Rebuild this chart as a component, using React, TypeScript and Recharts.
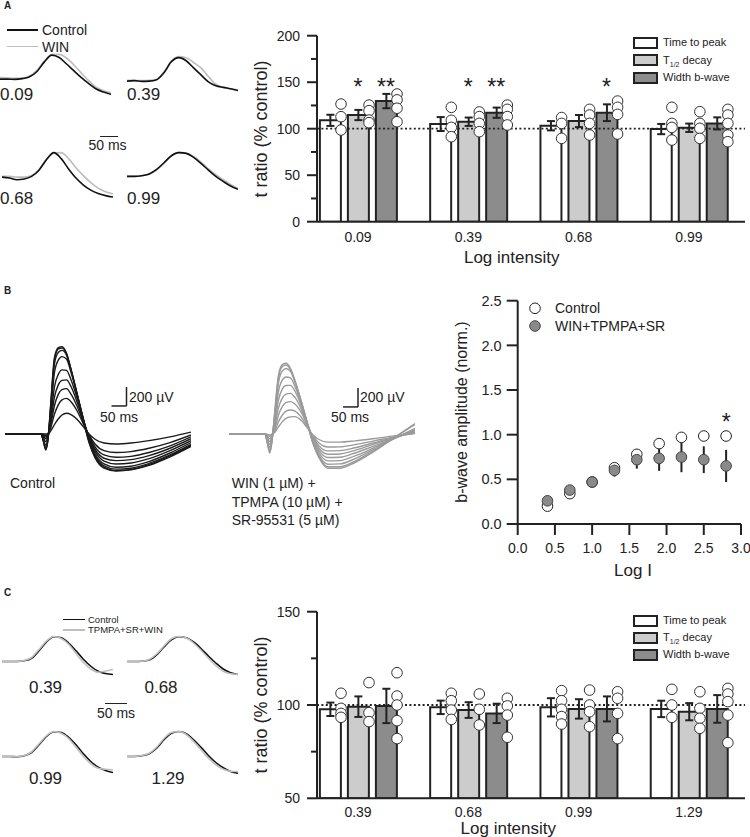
import React from 'react';
import {
  ComposedChart,
  LineChart,
  Line,
  Bar,
  Scatter,
  XAxis,
  YAxis,
  ErrorBar,
  ReferenceLine,
} from 'recharts';

const FONT = '"Liberation Sans", Arial, Helvetica, sans-serif';
const INK = '#222222';
const LIGHT = '#cccccc';
const DARK = '#8c8c8c';

// ---------------- Panel A : example traces (normalised amplitude) ----------------
const traceTimeA = [0, 20, 40, 60, 80, 100, 120, 140, 160, 180, 200, 220, 240, 260, 280, 300];
const a009Control = [-0.03, -0.03, -0.04, -0.01, 0.07, 0.29, 0.69, 0.97, 0.87, 0.6, 0.31, 0.03, -0.22, -0.44, -0.57, -0.66];
const a009Win = [0.04, 0.03, 0, 0.01, 0.1, 0.34, 0.72, 0.99, 1.0, 0.85, 0.56, 0.22, -0.1, -0.37, -0.51, -0.59];
const a039Control = [-0.03, -0.01, -0.04, -0.03, 0.03, 0.32, 0.78, 0.95, 0.82, 0.52, 0.23, -0.06, -0.22, -0.29, -0.35, -0.42];
const a039Win = [0, 0, -0.01, 0, 0.04, 0.36, 0.81, 0.99, 0.94, 0.75, 0.52, 0.16, -0.16, -0.29, -0.35, -0.4];
const a068Control = [-0.03, -0.07, -0.14, -0.11, 0, 0.26, 0.69, 0.99, 0.74, 0.31, -0.07, -0.36, -0.57, -0.71, -0.8, -0.86];
const a068Win = [0, 0, -0.03, -0.03, 0.04, 0.29, 0.71, 0.97, 0.99, 0.74, 0.36, 0.03, -0.26, -0.49, -0.64, -0.73];
const a099Control = [0, 0, 0.03, 0.1, 0.29, 0.57, 0.86, 0.99, 0.96, 0.79, 0.54, 0.26, 0, -0.21, -0.4, -0.54];
const a099Win = [0, 0, 0.03, 0.09, 0.26, 0.54, 0.86, 1.0, 0.97, 0.83, 0.6, 0.31, 0.07, -0.14, -0.33, -0.5];

// ---------------- Panel A : bar chart ----------------
const catsA = ['0.09', '0.39', '0.68', '0.99'];
const timeToPeakA = [109, 105, 103.2, 99.6];
const timeToPeakErrA = [6, 7.5, 5, 5.5];
const halfDecayA = [114.7, 107.5, 108.2, 101];
const halfDecayErrA = [5.5, 4.5, 6.5, 4.5];
const widthA = [129.7, 117.2, 117.2, 105.7];
const widthErrA = [7.7, 5.5, 9, 6.5];
const timeToPeakPtsA = [[126.5, 112.9, 98.6], [123, 109, 101.4, 91.4], [112, 105.7, 89.6], [123, 105.7, 101.4, 87.8]];
const halfDecayPtsA = [[125.4, 119.4, 109.3, 106.5], [118, 113, 105.7, 96.8], [120.8, 114.7, 105.7, 93.2], [118.3, 105.7, 100.4, 89.6]];
const widthPtsA = [[137.3, 131, 122, 107.5], [125.4, 120.8, 113, 104], [129.7, 123, 115.4, 94.3], [120.8, 114.7, 105.7, 93.2, 86]];
const sigA = [['', '*', '**'], ['', '*', '**'], ['', '', '*'], ['', '', '']];
const ticksA = [0, 25, 50, 75, 100, 125, 150, 175, 200];
const majorTicksA = [0, 50, 100, 150, 200];

// ---------------- Panel B : ERG families (µV) ----------------
const traceTimeB = [0, 120, 128, 136, 144, 152, 165, 178, 190, 205, 220, 240, 260, 280, 300, 330, 370, 420, 480, 550, 620];
const ctl1 = [0, 0, -80, -170, -40, 300, 810, 910, 920, 850, 680, 420, 155, -90, -250, -360, -390, -378, -330, -240, -130];
const ctl2 = [0, 0, -75, -160, -35, 280, 780, 895, 905, 845, 680, 425, 160, -80, -240, -350, -385, -372, -322, -230, -120];
const ctl3 = [0, 0, -70, -150, -30, 250, 740, 860, 880, 830, 675, 430, 170, -70, -225, -335, -370, -360, -310, -220, -110];
const ctl4 = [0, 0, -55, -120, -20, 210, 650, 780, 815, 790, 650, 420, 175, -55, -205, -315, -350, -340, -290, -200, -90];
const ctl5 = [0, 0, -35, -80, -10, 160, 500, 630, 675, 670, 570, 380, 165, -40, -180, -285, -315, -305, -260, -175, -70];
const ctl6 = [0, 0, -20, -50, 0, 120, 390, 520, 565, 570, 500, 340, 150, -30, -160, -255, -280, -270, -228, -150, -50];
const ctl7 = [0, 0, -12, -30, 0, 90, 300, 420, 468, 478, 420, 295, 135, -20, -135, -220, -245, -235, -195, -125, -30];
const ctl8 = [0, 0, -5, -15, 0, 60, 210, 310, 360, 375, 340, 245, 115, -10, -105, -175, -195, -185, -150, -90, -10];
const ctl9 = [0, 0, 0, 0, 0, 30, 100, 160, 200, 218, 205, 155, 80, 0, -55, -95, -105, -95, -70, -30, 20];
const drug1 = [0, 0, -100, -200, -60, 220, 620, 730, 744, 690, 560, 350, 120, -100, -250, -360, -360, -300, -190, -40, 110];
const drug2 = [0, 0, -95, -190, -55, 200, 590, 710, 727, 680, 555, 350, 125, -95, -240, -345, -345, -285, -180, -40, 100];
const drug3 = [0, 0, -85, -170, -45, 175, 540, 665, 690, 660, 545, 350, 130, -85, -225, -318, -315, -260, -165, -50, 60];
const drug4 = [0, 0, -70, -140, -35, 140, 450, 570, 600, 590, 500, 330, 130, -70, -200, -283, -280, -230, -150, -50, 45];
const drug5 = [0, 0, -55, -110, -25, 105, 360, 475, 510, 512, 450, 305, 125, -55, -175, -248, -245, -200, -130, -45, 35];
const drug6 = [0, 0, -40, -80, -15, 75, 275, 380, 420, 428, 385, 270, 115, -40, -150, -213, -210, -172, -110, -40, 25];
const drug7 = [0, 0, -25, -50, -8, 50, 200, 290, 330, 341, 315, 230, 100, -30, -125, -178, -175, -145, -95, -35, 20];
const drug8 = [0, 0, -12, -25, 0, 30, 130, 200, 240, 253, 240, 180, 80, -20, -95, -137, -135, -112, -75, -30, 10];
const drug9 = [0, 0, -5, -10, 0, 15, 75, 130, 165, 180, 183, 145, 70, -10, -58, -86, -85, -72, -50, -20, 5];

// ---------------- Panel B : intensity-response ----------------
const logI = [0.4, 0.7, 1.0, 1.3, 1.6, 1.9, 2.2, 2.5, 2.8];
const ctrlAmp = [0.2, 0.34, 0.47, 0.63, 0.78, 0.9, 0.97, 0.985, 0.985];
const ctrlSem = [0.02, 0.03, 0.03, 0.04, 0.055, 0.04, 0.055, 0.05, 0.04];
const winAmp = [0.26, 0.38, 0.47, 0.6, 0.72, 0.735, 0.75, 0.72, 0.65];
const winSem = [0.03, 0.03, 0.04, 0.07, 0.1, 0.14, 0.17, 0.15, 0.18];
const sigB = [{ x: 2.8, label: '*' }];

// ---------------- Panel C : example traces ----------------
const traceTimeC = [0, 17, 34, 51, 68, 85, 102, 119, 136, 153, 170, 187, 204, 221, 238, 255];
const c039Control = [0, 0, 0, 0.03, 0.13, 0.43, 0.78, 0.99, 0.95, 0.74, 0.43, 0.09, -0.19, -0.39, -0.48, -0.52];
const c039Drug = [0, 0, 0, 0.04, 0.16, 0.48, 0.82, 1.0, 0.92, 0.69, 0.32, -0.04, -0.3, -0.43, -0.38, -0.32];
const c068Control = [0, 0, 0.01, 0.06, 0.26, 0.58, 0.87, 0.99, 0.95, 0.78, 0.52, 0.22, -0.06, -0.3, -0.45, -0.52];
const c068Drug = [0, 0, 0.01, 0.08, 0.3, 0.62, 0.91, 1.0, 0.94, 0.74, 0.45, 0.13, -0.17, -0.39, -0.49, -0.51];
const c099Control = [0, 0, -0.01, 0.03, 0.16, 0.47, 0.8, 0.99, 0.96, 0.77, 0.47, 0.11, -0.2, -0.43, -0.56, -0.64];
const c099Drug = [0, 0, 0, 0.04, 0.19, 0.51, 0.83, 1.0, 0.93, 0.72, 0.37, 0, -0.29, -0.47, -0.51, -0.53];
const c129Control = [0, 0, 0.03, 0.11, 0.33, 0.67, 0.93, 1.0, 0.91, 0.67, 0.37, 0.04, -0.24, -0.45, -0.6, -0.67];
const c129Drug = [0, 0, 0.04, 0.13, 0.37, 0.72, 0.96, 1.0, 0.88, 0.6, 0.27, -0.07, -0.33, -0.51, -0.59, -0.6];

// ---------------- Panel C : bar chart ----------------
const catsC = ['0.39', '0.68', '0.99', '1.29'];
const timeToPeakC = [97.7, 98.75, 98.75, 97.9];
const timeToPeakErrC = [3.6, 3.6, 4.9, 4.4];
const halfDecayC = [99.1, 97.3, 97.9, 96.4];
const halfDecayErrC = [5.5, 4.2, 5.2, 4.6];
const widthC = [99.5, 95.5, 97.9, 97.9];
const widthErrC = [9.2, 5.2, 6.7, 7.4];
const timeToPeakPtsC = [[106.3, 98.2, 95.5, 93.4], [106.3, 102.3, 97.3, 92.3], [107.7, 102.3, 97.7, 93.8, 89.8], [108.4, 100, 93.4]];
const halfDecayPtsC = [[112, 95.9, 91.1], [105.9, 97.7, 89.3], [108, 100, 96.4, 88.4], [107.1, 98.2, 92.9, 87.5]];
const widthPtsC = [[117.3, 104.8, 100, 91.6, 82], [103.6, 99.5, 94.6, 82.7], [107.1, 103.6, 95.5, 82], [108.9, 105.9, 101.8, 94.6, 79.8]];
const sigC = [['', '', ''], ['', '', ''], ['', '', ''], ['', '', '']];
const ticksC = [50, 75, 100, 125, 150];
const majorTicksC = [50, 100, 150];

// ---------------- helpers ----------------
const X_DOMAIN: [number, number] = [-0.372, 3.509];
const PX_PER_UNIT = 428 / (X_DOMAIN[1] - X_DOMAIN[0]);
const DOT_OFFSET_PX = [-17, 11, 39];
const BAR_CENTER_PX = [-28, 0, 28];

function Txt(props: any) {
  const { x, y, size = 14, anchor = 'start', rotate = false, bold = false, color = INK, children } = props;
  const tx = anchor === 'middle' ? '-50%' : anchor === 'end' ? '-100%' : '0';
  return (
    <div
      style={{
        position: 'absolute',
        left: x,
        top: y,
        transform: `translate(${tx}, -50%)${rotate ? ' rotate(-90deg)' : ''}`,
        fontSize: size,
        fontFamily: FONT,
        fontWeight: bold ? 700 : 400,
        whiteSpace: 'nowrap',
        lineHeight: 1,
        color,
      }}
    >
      {children}
    </div>
  );
}

function HLine(props: any) {
  const { x1, x2, y, color = INK, w = 1.5 } = props;
  return <div style={{ position: 'absolute', left: x1, top: y - w / 2, width: x2 - x1, height: w, background: color }} />;
}

function MiniTrace(props: any) {
  const { left, top, height, tMax, time, first, second, firstColor, secondColor } = props;
  const rows = time.map((t: number, i: number) => ({ t, a: first[i], b: second[i] }));
  return (
    <div style={{ position: 'absolute', left, top }}>
      <LineChart width={111} height={height} data={rows} margin={{ top: 0, right: 0, bottom: 0, left: 0 }}>
        <XAxis dataKey="t" type="number" domain={[0, tMax]} hide />
        <YAxis domain={[-0.9, 1.1]} hide allowDataOverflow />
        <Line dataKey="a" type="monotone" stroke={firstColor} strokeWidth={1.6} dot={false} isAnimationActive={false} />
        <Line dataKey="b" type="monotone" stroke={secondColor} strokeWidth={1.6} dot={false} isAnimationActive={false} />
      </LineChart>
    </div>
  );
}

function TraceFamily(props: any) {
  const { left, traces, color, barX, barY } = props;
  const rows = traceTimeB.map((t, i) => {
    const r: any = { t };
    traces.forEach((tr: number[], k: number) => {
      r['s' + k] = tr[i];
    });
    return r;
  });
  return (
    <div style={{ position: 'absolute', left, top: 320 }}>
      <LineChart width={186} height={171} data={rows} margin={{ top: 0, right: 0, bottom: 0, left: 0 }}>
        <XAxis dataKey="t" type="number" domain={[0, 620]} hide />
        <YAxis domain={[-600, 1200]} hide allowDataOverflow />
        {traces.map((_: any, k: number) => (
          <Line key={k} dataKey={'s' + k} type="monotone" stroke={color} strokeWidth={1.4} dot={false} isAnimationActive={false} />
        ))}
        <ReferenceLine segment={[{ x: barX, y: barY }, { x: barX, y: barY + 200 }]} stroke={INK} strokeWidth={1.5} />
        <ReferenceLine segment={[{ x: barX - 50, y: barY }, { x: barX, y: barY }]} stroke={INK} strokeWidth={1.5} />
      </LineChart>
    </div>
  );
}

function YTick(props: any) {
  const { x, y, payload, majors } = props;
  const isMajor = majors.includes(payload.value);
  const axisX = x + 17;
  return (
    <g>
      <line x1={axisX - (isMajor ? 10 : 6)} x2={axisX} y1={y} y2={y} stroke={INK} strokeWidth={2} />
      {isMajor && (
        <text x={x} y={y} dy="0.35em" textAnchor="end" fontSize={14} fontFamily={FONT} fill={INK}>
          {payload.value}
        </text>
      )}
    </g>
  );
}

const dotShape = (p: any) => <circle cx={p.cx} cy={p.cy} r={5.3} fill="#ffffff" stroke="#333333" strokeWidth={1} />;
const starShape = (p: any) => (
  <text x={p.cx} y={p.cy + 13} textAnchor="middle" fontSize={23} fontFamily={FONT} fill={INK}>
    {p.payload && p.payload.label}
  </text>
);

function BarPanel(props: any) {
  const { top, height, bottomMargin, cats, means, errs, pts, sig, yDomain, ticks, majors, starY, tickMargin } = props;
  const rows = cats.map((c: string, i: number) => ({
    x: i,
    tp: means[0][i],
    tpE: errs[0][i],
    th: means[1][i],
    thE: errs[1][i],
    wb: means[2][i],
    wbE: errs[2][i],
  }));
  const dots: any[] = [];
  pts.forEach((series: number[][], s: number) =>
    series.forEach((vals: number[], i: number) =>
      vals.forEach((v: number) => dots.push({ x: i + DOT_OFFSET_PX[s] / PX_PER_UNIT, y: v }))
    )
  );
  const stars: any[] = [];
  sig.forEach((g: string[], i: number) =>
    g.forEach((lab: string, s: number) => {
      if (lab) stars.push({ x: i + BAR_CENTER_PX[s] / PX_PER_UNIT, y: starY, label: lab });
    })
  );
  return (
    <div style={{ position: 'absolute', left: 250, top }}>
      <ComposedChart
        width={500}
        height={height}
        data={rows}
        barGap={7}
        margin={{ top: 15.7, right: 5, left: 7, bottom: bottomMargin }}
      >
        <XAxis
          dataKey="x"
          type="number"
          domain={X_DOMAIN}
          allowDataOverflow
          ticks={[0, 1, 2, 3]}
          interval={0}
          tickFormatter={(v: number) => cats[v]}
          tickLine={false}
          tickSize={5}
          tickMargin={tickMargin}
          axisLine={{ stroke: INK, strokeWidth: 2 }}
          tick={{ fill: INK, fontSize: 14, fontFamily: FONT }}
          height={30}
        />
        <XAxis xAxisId="pts" dataKey="x" type="number" domain={X_DOMAIN} allowDataOverflow hide height={0} />
        <YAxis
          domain={yDomain}
          allowDataOverflow
          ticks={ticks}
          interval={0}
          width={60}
          axisLine={{ stroke: INK, strokeWidth: 2 }}
          tickLine={false}
          tickSize={10}
          tickMargin={7}
          tick={(p: any) => <YTick {...p} majors={majors} />}
        />
        <YAxis yAxisId="pts" dataKey="y" domain={yDomain} allowDataOverflow hide width={0} />
        <Bar dataKey="tp" fill="#ffffff" stroke={INK} strokeWidth={2} barSize={21} isAnimationActive={false}>
          <ErrorBar dataKey="tpE" width={4} stroke={INK} strokeWidth={2} />
        </Bar>
        <Bar dataKey="th" fill={LIGHT} stroke={INK} strokeWidth={2} barSize={21} isAnimationActive={false}>
          <ErrorBar dataKey="thE" width={4} stroke={INK} strokeWidth={2} />
        </Bar>
        <Bar dataKey="wb" fill={DARK} stroke={INK} strokeWidth={2} barSize={21} isAnimationActive={false}>
          <ErrorBar dataKey="wbE" width={4} stroke={INK} strokeWidth={2} />
        </Bar>
        <ReferenceLine y={100} stroke={INK} strokeWidth={1.8} strokeDasharray="2 2.4" />
        <Scatter xAxisId="pts" yAxisId="pts" data={dots} shape={dotShape} isAnimationActive={false} />
        <Scatter xAxisId="pts" yAxisId="pts" data={stars} shape={starShape} isAnimationActive={false} />
      </ComposedChart>
    </div>
  );
}

function BarLegend(props: any) {
  const { left, top, step } = props;
  const items = [
    { fill: '#ffffff', label: <span>Time to peak</span> },
    {
      fill: LIGHT,
      label: (
        <span>
          T<span style={{ fontSize: 7, position: 'relative', top: 3 }}>1/2</span> decay
        </span>
      ),
    },
    { fill: DARK, label: <span>Width b-wave</span> },
  ];
  return (
    <>
      {items.map((it, i) => (
        <div
          key={i}
          style={{ position: 'absolute', left, top: top + i * step, height: 12, display: 'flex', alignItems: 'center' }}
        >
          <div style={{ width: 21, height: 8, border: `2px solid ${INK}`, background: it.fill }} />
          <div style={{ marginLeft: 5, fontSize: 11, fontFamily: FONT, color: INK, lineHeight: 1, whiteSpace: 'nowrap' }}>
            {it.label}
          </div>
        </div>
      ))}
    </>
  );
}

function DoseResponse() {
  const ctrlRows = logI.map((x, i) => ({ x, y: ctrlAmp[i], e: ctrlSem[i] }));
  const winRows = logI.map((x, i) => ({ x, y: winAmp[i], e: winSem[i] }));
  const starRows = sigB.map((s) => ({ x: s.x, y: 1.2, label: s.label }));
  const openShape = (p: any) => <circle cx={p.cx} cy={p.cy} r={5.3} fill="#ffffff" stroke="#222222" strokeWidth={1} />;
  const grayShape = (p: any) => <circle cx={p.cx} cy={p.cy} r={5.3} fill="#8a8a8a" stroke="#444444" strokeWidth={1} />;
  const noShape = () => <g />;
  return (
    <div style={{ position: 'absolute', left: 440, top: 290 }}>
      <ComposedChart width={310} height={300} margin={{ top: 10.7, right: 9, left: 17.7, bottom: 26 }}>
        <XAxis
          dataKey="x"
          type="number"
          domain={[0, 3]}
          ticks={[0, 0.5, 1, 1.5, 2, 2.5, 3]}
          interval={0}
          tickFormatter={(v: number) => v.toFixed(1)}
          axisLine={{ stroke: INK, strokeWidth: 2 }}
          tickLine={{ stroke: INK, strokeWidth: 2 }}
          tickSize={11}
          tickMargin={8.3}
          tick={{ fill: INK, fontSize: 14, fontFamily: FONT }}
          height={40}
        />
        <YAxis
          dataKey="y"
          type="number"
          domain={[0, 2.5]}
          ticks={[0, 0.5, 1, 1.5, 2, 2.5]}
          interval={0}
          tickFormatter={(v: number) => v.toFixed(1)}
          axisLine={{ stroke: INK, strokeWidth: 2 }}
          tickLine={{ stroke: INK, strokeWidth: 2 }}
          tickSize={11}
          tickMargin={5}
          tick={{ fill: INK, fontSize: 14.5, fontFamily: FONT }}
          width={60}
        />
        <Scatter data={ctrlRows} shape={openShape} isAnimationActive={false} />
        <Scatter data={winRows} shape={grayShape} isAnimationActive={false}>
          <ErrorBar dataKey="e" direction="y" width={0} stroke={INK} strokeWidth={2} />
        </Scatter>
        <Scatter data={ctrlRows} shape={noShape} isAnimationActive={false}>
          <ErrorBar dataKey="e" direction="y" width={0} stroke={INK} strokeWidth={1.5} />
        </Scatter>
        <Scatter data={starRows} shape={starShape} isAnimationActive={false} />
      </ComposedChart>
    </div>
  );
}

export default function App() {
  return (
    <div
      style={{
        position: 'absolute',
        left: 0,
        top: 0,
        width: 750,
        height: 837,
        background: '#ffffff',
        overflow: 'hidden',
        fontFamily: FONT,
        color: INK,
      }}
    >
      {/* ---------- Panel A ---------- */}
      <Txt x={4} y={6} size={10} bold>A</Txt>
      <HLine x1={7} x2={38} y={30} color="#111111" w={1.6} />
      <HLine x1={7} x2={38} y={46.7} color="#bdbdbd" w={1.6} />
      <Txt x={42} y={30} size={14}>Control</Txt>
      <Txt x={42} y={46.7} size={14}>WIN</Txt>

      <MiniTrace left={0} top={51.9} height={48} tMax={300} time={traceTimeA} first={a009Win} second={a009Control} firstColor="#bdbdbd" secondColor="#111111" />
      <MiniTrace left={127} top={53.6} height={48} tMax={300} time={traceTimeA} first={a039Win} second={a039Control} firstColor="#bdbdbd" secondColor="#111111" />
      <MiniTrace left={2} top={150.3} height={48} tMax={300} time={traceTimeA} first={a068Win} second={a068Control} firstColor="#bdbdbd" secondColor="#111111" />
      <MiniTrace left={127} top={150.3} height={48} tMax={300} time={traceTimeA} first={a099Win} second={a099Control} firstColor="#bdbdbd" secondColor="#111111" />
      <Txt x={0} y={94} size={17}>0.09</Txt>
      <Txt x={127} y={94} size={17}>0.39</Txt>
      <Txt x={0} y={197.5} size={17}>0.68</Txt>
      <Txt x={127} y={197.5} size={17}>0.99</Txt>
      <HLine x1={100} x2={118.3} y={136.7} w={1.6} />
      <Txt x={107.5} y={145} size={14} anchor="middle">50 ms</Txt>

      <BarPanel
        top={20}
        height={260}
        bottomMargin={28.3}
        cats={catsA}
        means={[timeToPeakA, halfDecayA, widthA]}
        errs={[timeToPeakErrA, halfDecayErrA, widthErrA]}
        pts={[timeToPeakPtsA, halfDecayPtsA, widthPtsA]}
        sig={sigA}
        yDomain={[0, 200]}
        ticks={ticksA}
        majors={majorTicksA}
        starY={150}
        tickMargin={5}
      />
      <Txt x={261} y={128.7} size={18} anchor="middle" rotate>t ratio (% control)</Txt>
      <Txt x={511.7} y={257.3} size={17} anchor="middle">Log intensity</Txt>
      <BarLegend left={633} top={36.7} step={17.5} />

      {/* ---------- Panel B ---------- */}
      <Txt x={4} y={291} size={10} bold>B</Txt>
      <TraceFamily left={5} traces={[ctl1, ctl2, ctl3, ctl4, ctl5, ctl6, ctl7, ctl8, ctl9]} color="#1a1a1a" barX={405} barY={295} />
      <TraceFamily left={229} traces={[drug1, drug2, drug3, drug4, drug5, drug6, drug7, drug8, drug9]} color="#9a9a9a" barX={430} barY={285} />
      <Txt x={129} y={397} size={14}>200 µV</Txt>
      <Txt x={100} y={417} size={14}>50 ms</Txt>
      <Txt x={360} y={397} size={14}>200 µV</Txt>
      <Txt x={331} y={417} size={14}>50 ms</Txt>
      <Txt x={10} y={483} size={14}>Control</Txt>
      <Txt x={231.7} y={483.3} size={14}>WIN (1 µM) +</Txt>
      <Txt x={231.7} y={501.7} size={14}>TPMPA (10 µM) +</Txt>
      <Txt x={231.7} y={520} size={14}>SR-95531 (5 µM)</Txt>

      <DoseResponse />
      <Txt x={461.7} y={412} size={16} anchor="middle" rotate>b-wave amplitude (norm.)</Txt>
      <Txt x={633} y={570} size={17} anchor="middle">Log I</Txt>
      <svg style={{ position: 'absolute', left: 528, top: 301 }} width={14} height={32}>
        <circle cx={7} cy={7.3} r={5.3} fill="#ffffff" stroke="#222222" strokeWidth={1} />
        <circle cx={7} cy={25} r={5.3} fill="#8a8a8a" stroke="#444444" strokeWidth={1} />
      </svg>
      <Txt x={555} y={308.3} size={14}>Control</Txt>
      <Txt x={555} y={326} size={14}>WIN+TPMPA+SR</Txt>

      {/* ---------- Panel C ---------- */}
      <Txt x={4} y={593} size={10} bold>C</Txt>
      <HLine x1={63} x2={85} y={619.5} color="#111111" w={1.4} />
      <HLine x1={63} x2={85} y={630} color="#bdbdbd" w={1.4} />
      <Txt x={88} y={619.5} size={9.5}>Control</Txt>
      <Txt x={88} y={630} size={9.5}>TPMPA+SR+WIN</Txt>

      <MiniTrace left={2} top={634.2} height={50} tMax={255} time={traceTimeC} first={c039Control} second={c039Drug} firstColor="#111111" secondColor="#c0c0c0" />
      <MiniTrace left={127} top={634.2} height={50} tMax={255} time={traceTimeC} first={c068Control} second={c068Drug} firstColor="#111111" secondColor="#c0c0c0" />
      <MiniTrace left={2} top={729.2} height={50} tMax={255} time={traceTimeC} first={c099Control} second={c099Drug} firstColor="#111111" secondColor="#c0c0c0" />
      <MiniTrace left={127} top={729.2} height={50} tMax={255} time={traceTimeC} first={c129Control} second={c129Drug} firstColor="#111111" secondColor="#c0c0c0" />
      <Txt x={45.5} y={687} size={17} anchor="middle">0.39</Txt>
      <Txt x={161} y={687} size={17} anchor="middle">0.68</Txt>
      <Txt x={45.5} y={778} size={17} anchor="middle">0.99</Txt>
      <Txt x={168} y={778} size={17} anchor="middle">1.29</Txt>
      <HLine x1={105} x2={127} y={703.3} w={1.6} />
      <Txt x={116} y={713} size={14} anchor="middle">50 ms</Txt>

      <BarPanel
        top={596}
        height={241}
        bottomMargin={8.7}
        cats={catsC}
        means={[timeToPeakC, halfDecayC, widthC]}
        errs={[timeToPeakErrC, halfDecayErrC, widthErrC]}
        pts={[timeToPeakPtsC, halfDecayPtsC, widthPtsC]}
        sig={sigC}
        yDomain={[50, 150]}
        ticks={ticksC}
        majors={majorTicksC}
        starY={150}
        tickMargin={3.4}
      />
      <Txt x={261} y={705} size={18} anchor="middle" rotate>t ratio (% control)</Txt>
      <Txt x={508.3} y={828.3} size={17} anchor="middle">Log intensity</Txt>
      <BarLegend left={633} top={614.5} step={17} />
    </div>
  );
}
